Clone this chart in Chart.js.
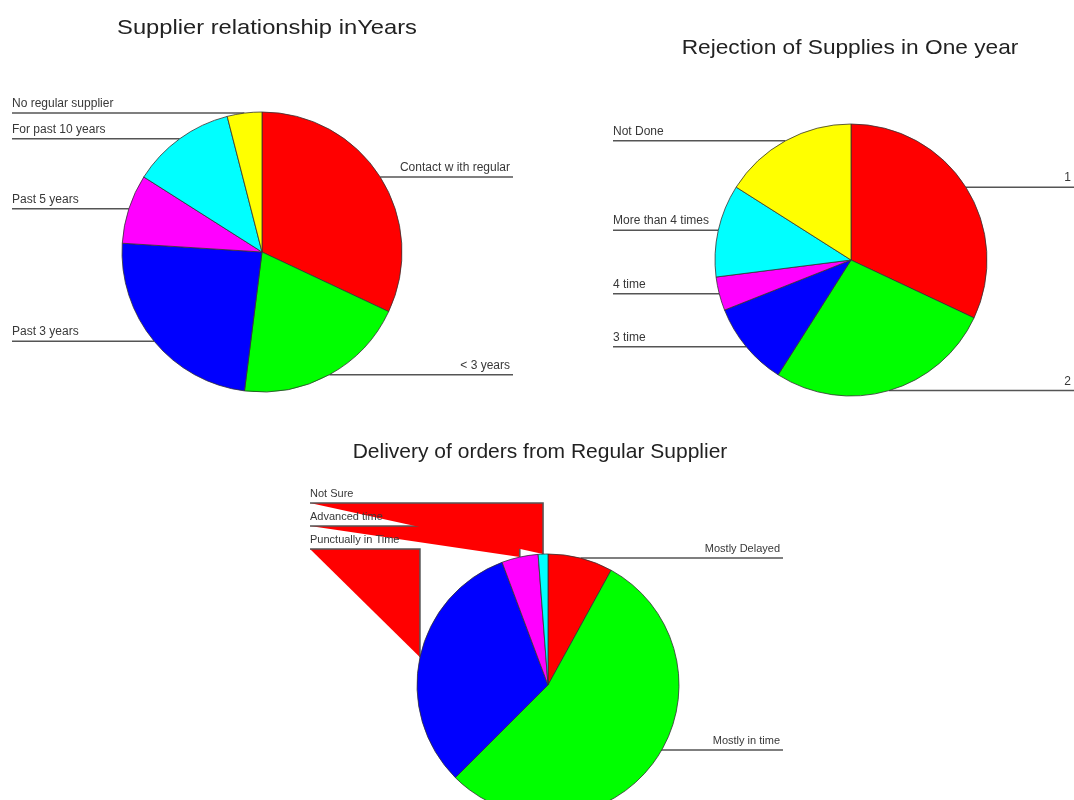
<!DOCTYPE html>
<html>
<head>
<meta charset="utf-8">
<script src="https://cdn.jsdelivr.net/npm/chart.js@4/dist/chart.umd.min.js"></script>
<style>
  html, body { margin: 0; padding: 0; background: #ffffff; }
  #wrap { position: relative; width: 1074px; height: 800px; overflow: hidden; background: #ffffff; }
  #wrap canvas { position: absolute; left: 0; top: 0; }
</style>
</head>
<body>
<div id="wrap">
  <canvas id="c1" width="1120" height="860"></canvas>
  <canvas id="c2" width="1120" height="860"></canvas>
  <canvas id="c3" width="1120" height="860"></canvas>
</div>
<script>
// ---- data ----
const sliceColors = ['#ff0000', '#00ff00', '#0000ff', '#ff00ff', '#00ffff', '#ffff00'];

const supplierTitle = 'Supplier relationship inYears';
const supplierLabels = ['Contact w ith regular', '< 3 years', 'Past 3 years', 'Past 5 years', 'For past 10 years', 'No regular supplier'];
const supplierValues = [32, 20, 24, 8, 12, 4];

const rejectionTitle = 'Rejection of Supplies in One year';
const rejectionLabels = ['1 time', '2 time', '3 time', '4 time', 'More than 4 times', 'Not Done'];
const rejectionValues = [32, 27, 10, 4, 11, 16];

const deliveryTitle = 'Delivery of orders from Regular Supplier';
const deliveryLabels = ['Mostly Delayed', 'Mostly in time', 'Punctually in Time', 'Advanced time', 'Not Sure'];
const deliveryValues = [8, 54.5, 31.8, 4.5, 1.2];

// ---- leader-line / label plugin ----
const leaderPlugin = {
  id: 'leaders',
  beforeDatasetsDraw(chart, args, o) {
    const meta = chart.getDatasetMeta(0);
    const items = meta.data.map((arc, i) => {
      const p = arc.getProps(['x', 'y', 'startAngle', 'endAngle', 'outerRadius'], true);
      const mid = (p.startAngle + p.endAngle) / 2;
      const px = p.x + p.outerRadius * Math.cos(mid);
      const py = p.y + p.outerRadius * Math.sin(mid);
      let ly = py, clamped = false;
      if (o.maxLabelY != null && ly > o.maxLabelY) { ly = o.maxLabelY; clamped = true; }
      return { label: chart.data.labels[i], px, py, ly, cx: p.x, right: Math.cos(mid) > 0, clamped, stacked: false };
    });
    if (o.stack) {
      const lefts = items.filter(t => !t.right).sort((a, b) => a.py - b.py);
      lefts.forEach((t, k) => { t.ly = o.stack.top + k * o.stack.gap; t.stacked = true; });
    }
    chart.$leaders = items;
    const ctx = chart.ctx;
    ctx.save();
    ctx.strokeStyle = '#555';
    ctx.lineWidth = 1.5;
    items.forEach(t => {
      const mx = t.right ? o.rightX : o.leftX;
      if (t.stacked) {
        ctx.beginPath();
        ctx.moveTo(mx, t.ly); ctx.lineTo(t.px, t.ly); ctx.lineTo(t.px, t.py); ctx.closePath();
        ctx.fillStyle = '#ff0000';
        ctx.fill();
        ctx.beginPath();
        ctx.moveTo(mx, t.ly); ctx.lineTo(t.px, t.ly); ctx.lineTo(t.px, t.py);
        ctx.stroke();
      } else if (t.clamped) {
        ctx.beginPath();
        ctx.moveTo(mx, t.ly); ctx.lineTo(t.cx, t.ly);
        ctx.stroke();
      } else {
        ctx.beginPath();
        ctx.moveTo(mx, t.ly); ctx.lineTo(t.px, t.ly);
        ctx.stroke();
      }
    });
    ctx.restore();
  },
  afterDatasetsDraw(chart, args, o) {
    const ctx = chart.ctx;
    ctx.save();
    ctx.fillStyle = '#383838';
    ctx.font = o.fontSize + 'px "Liberation Sans", Arial, sans-serif';
    ctx.textBaseline = 'alphabetic';
    (chart.$leaders || []).forEach(t => {
      ctx.textAlign = t.right ? 'right' : 'left';
      ctx.fillText(t.label, t.right ? o.rightX - 3 : o.leftX, t.ly - 6);
    });
    ctx.fillStyle = '#222';
    ctx.font = '21px "Liberation Sans", Arial, sans-serif';
    ctx.textAlign = 'center';
    ctx.textBaseline = 'middle';
    ctx.translate(o.titleX, o.titleY);
    ctx.scale(o.titleStretch || 1, 1);
    ctx.fillText(o.title, 0, 0);
    ctx.restore();
  }
};

function makePie(id, labels, values, cfg) {
  const W = 1120, H = 860;
  return new Chart(document.getElementById(id), {
    type: 'pie',
    data: {
      labels: labels,
      datasets: [{
        data: values,
        backgroundColor: sliceColors.slice(0, values.length),
        borderColor: '#333',
        borderWidth: 0.8
      }]
    },
    options: {
      responsive: false,
      animation: false,
      devicePixelRatio: 1,
      radius: cfg.r,
      layout: { padding: { left: cfg.cx - cfg.r - 2, top: cfg.cy - cfg.r - 2, right: W - cfg.cx - cfg.r - 2, bottom: H - cfg.cy - cfg.r - 2 } },
      plugins: {
        legend: { display: false },
        tooltip: { enabled: false },
        leaders: cfg
      }
    },
    plugins: [leaderPlugin]
  });
}

makePie('c1', supplierLabels, supplierValues, {
  cx: 262, cy: 252, r: 140, leftX: 12, rightX: 513, fontSize: 12,
  title: supplierTitle, titleX: 267, titleY: 28, titleStretch: 1.13
});
makePie('c2', rejectionLabels, rejectionValues, {
  cx: 851, cy: 260, r: 136, leftX: 613, rightX: 1100, fontSize: 12,
  title: rejectionTitle, titleX: 850, titleY: 48, titleStretch: 1.08
});
makePie('c3', deliveryLabels, deliveryValues, {
  cx: 548, cy: 685, r: 131, leftX: 310, rightX: 783, fontSize: 11,
  maxLabelY: 750, stack: { top: 503, gap: 23 },
  title: deliveryTitle, titleX: 540, titleY: 452, titleStretch: 1.0
});
</script>
</body>
</html>
